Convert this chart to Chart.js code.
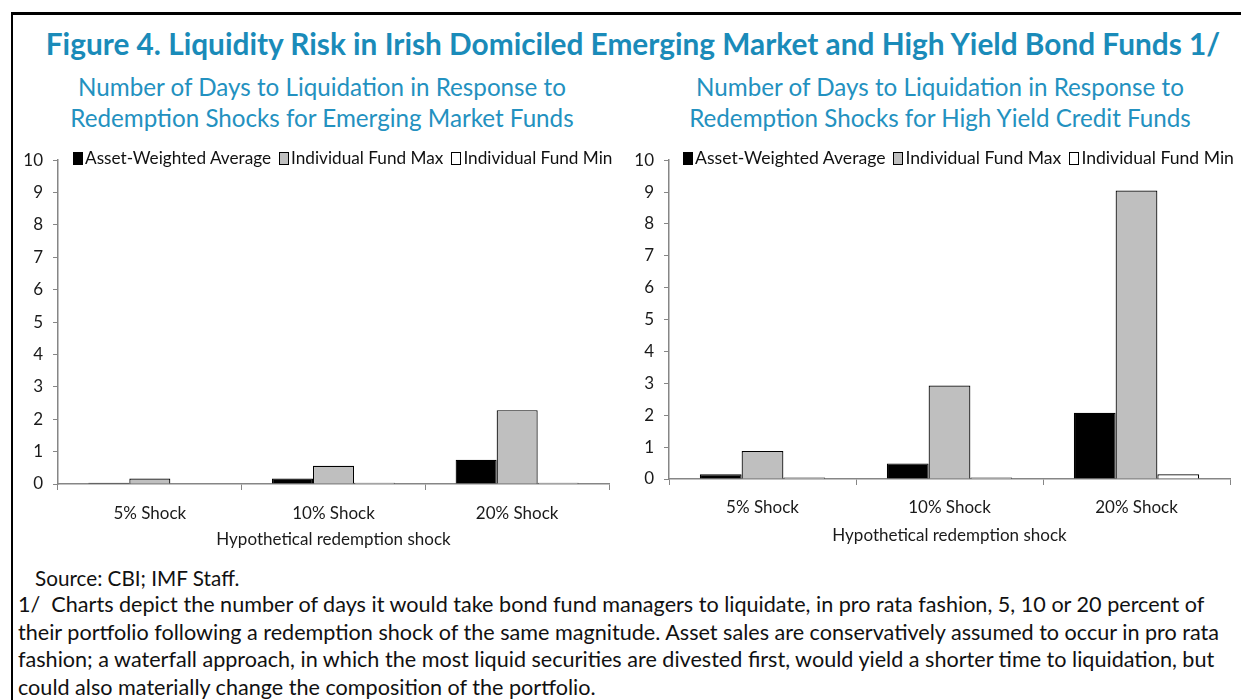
<!DOCTYPE html>
<html>
<head>
<meta charset="utf-8">
<script src="https://cdn.jsdelivr.net/npm/chart.js@4"></script>
<style>
  body { margin: 0; background: #fff; font-family: Lato, sans-serif; color: #111; }
  #page { position: relative; width: 1241px; height: 700px; overflow: hidden; }
  .frame { position: absolute; left: 11px; top: 12px; right: -10px; bottom: -10px; border-top: 3px solid #000; border-left: 2px solid #000; }
  .title { position: absolute; left: 0; width: 1266px; top: 25px; text-align: center; font-weight: bold; font-size: 29.8px; line-height: 38px; color: #1a8bb9; }
  .sub { position: absolute; top: 71px; width: 620px; text-align: center; font-size: 24.2px; line-height: 31px; color: #2391c0; white-space: nowrap; }
  .legend { position: absolute; top: 148px; line-height: 20px; white-space: nowrap; color: #111; }
  .legend span.box { display: inline-block; width: 10px; height: 13px; border: 1px solid #000; box-sizing: border-box; vertical-align: -1px; margin-right: 2px; }
  .legend span.item { margin-right: 8px; }
  .chartbox { position: absolute; top: 140px; height: 420px; }
  .source { position: absolute; left: 35px; top: 565px; font-size: 20.7px; line-height: 26px; }
  .note { position: absolute; left: 18px; top: 591px; font-size: 21.6px; line-height: 27.6px; white-space: nowrap; }
</style>
</head>
<body>
<div id="page">
  <div class="frame"></div>
  <div class="title">Figure 4. Liquidity Risk in Irish Domiciled Emerging Market and High Yield Bond Funds 1/</div>
  <div class="sub" style="left:12px">Number of Days to Liquidation in Response to<br>Redemption Shocks for Emerging Market Funds</div>
  <div class="sub" style="left:630px">Number of Days to Liquidation in Response to<br>Redemption Shocks for High Yield Credit Funds</div>

  <div class="chartbox" style="left:14px; width:610px;"><canvas id="emChart" width="610" height="420"></canvas></div>
  <div class="chartbox" style="left:624px; width:617px;"><canvas id="hyChart" width="617" height="420"></canvas></div>
  <div class="legend" id="emLegend" style="left:73px; font-size:17.2px"></div>
  <div class="legend" id="hyLegend" style="left:683px; font-size:17.6px"></div>

  <div class="source">Source: CBI; IMF Staff.</div>
  <div class="note">1/&nbsp; Charts depict the number of days it would take bond fund managers to liquidate, in pro rata fashion, 5, 10 or 20 percent of<br>their portfolio following a redemption shock of the same magnitude. Asset sales are conservatively assumed to occur in pro rata<br>fashion; a waterfall approach, in which the most liquid securities are divested first, would yield a shorter time to liquidation, but<br>could also materially change the composition of the portfolio.</div>
</div>

<script>
// categories and series
const shocks = ['5% Shock', '10% Shock', '20% Shock'];
const seriesNames = ['Asset-Weighted Average', 'Individual Fund Max', 'Individual Fund Min'];
const seriesColors = ['#000000', '#bfbfbf', '#ffffff'];

// emerging market funds (days)
const emAverage = [0.04, 0.17, 0.75];
const emMax = [0.17, 0.56, 2.28];
const emMin = [0, 0.04, 0.04];

// high yield credit funds (days)
const hyAverage = [0.15, 0.49, 2.08];
const hyMax = [0.88, 2.93, 9.05];
const hyMin = [0.05, 0.05, 0.15];

const yMin = 0, yMax = 10, yStep = 1;
const axisTitle = 'Hypothetical redemption shock';

const textColor = '#1a1a1a';
const axisColor = '#868686';

function buildLegend(id) {
  const el = document.getElementById(id);
  el.innerHTML = seriesNames.map((name, i) =>
    '<span class="item"><span class="box" style="background:' + seriesColors[i] + '"></span>' + name + '</span>'
  ).join('');
}

function makeChart(id, values, lay) {
  const ctx = document.getElementById(id).getContext('2d');
  return new Chart(ctx, {
    type: 'bar',
    data: {
      labels: shocks,
      datasets: values.map((v, i) => ({
        label: seriesNames[i],
        data: v,
        backgroundColor: seriesColors[i],
        borderColor: '#000',
        borderWidth: 1.2,
        categoryPercentage: 0.67,
        barPercentage: 1.0
      }))
    },
    options: {
      responsive: false,
      animation: false,
      layout: { padding: { top: lay.top, right: lay.right, left: 0, bottom: 0 } },
      plugins: { legend: { display: false }, tooltip: { enabled: false } },
      scales: {
        x: {
          grid: { offset: true, drawOnChartArea: false, drawTicks: true, tickLength: 6, color: axisColor },
          border: { color: axisColor, width: 1.5 },
          ticks: { color: textColor, font: { family: 'Lato', size: 17 }, padding: lay.labelPad },
          title: { display: true, text: axisTitle, color: textColor, font: { family: 'Lato', size: 17 }, padding: { top: 0, bottom: lay.titlePad } },
          afterFit(s) { s.height = lay.xHeight; }
        },
        y: {
          min: yMin,
          max: yMax,
          ticks: { stepSize: yStep, color: textColor, font: { family: 'Lato', size: 17 }, padding: 10 },
          grid: { drawOnChartArea: false, drawTicks: true, tickLength: 5, color: axisColor },
          border: { color: axisColor, width: 1.5 },
          afterFit(s) { s.width = lay.yWidth; }
        }
      }
    }
  });
}

buildLegend('emLegend');
buildLegend('hyLegend');
makeChart('emChart', [emAverage, emMax, emMin], { top: 19, right: 15, yWidth: 44, xHeight: 76, labelPad: 13, titlePad: 10 });
makeChart('hyChart', [hyAverage, hyMax, hyMin], { top: 18, right: 11, yWidth: 45, xHeight: 81, labelPad: 12, titlePad: 14 });
</script>
</body>
</html>
